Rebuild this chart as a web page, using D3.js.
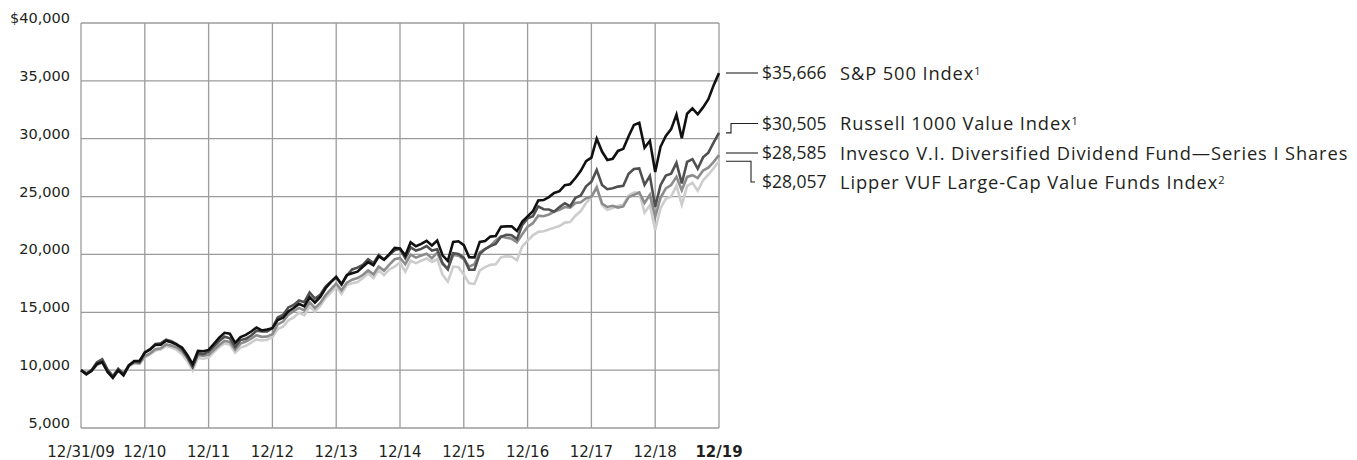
<!DOCTYPE html>
<html>
<meta charset="utf-8" />
<head>
<title>Growth of $10,000</title>
<style>
body { margin: 0; background: #fff; }
svg text { font-family: "DejaVu Sans", sans-serif; fill: #231f20; }
.ytick { font-size: 14.5px; text-anchor: end; }
.xtick { font-size: 15px; text-anchor: middle; }
.legend text { font-family: "Open Sans", sans-serif; font-size: 17.5px; }
.legend .name { font-size: 18.3px; letter-spacing: 0.9px; }
</style>
<script src="https://d3js.org/d3.v7.min.js" charset="utf-8"></script>
</head>
<body>
<svg class="chart" width="1357" height="460"></svg>

<script>
// month-end values, 12/31/09 .. 12/31/19 (growth of $10,000)
var xLabels = ["12/31/09", "12/10", "12/11", "12/12", "12/13", "12/14", "12/15", "12/16", "12/17", "12/18", "12/19"];
var yTicks = [5000, 10000, 15000, 20000, 25000, 30000, 35000, 40000];

var sp500 = [10000,
  9640, 9939, 10538, 10705, 9850, 9335, 9989, 9539, 10390, 10785, 10786, 11506,
  11779, 12183, 12188, 12549, 12407, 12200, 11952, 11303, 10508, 11657, 11631, 11749,
  12276, 12806, 13227, 13144, 12354, 12863, 13042, 13335, 13679, 13426, 13504, 13630,
  14336, 14531, 15076, 15367, 15727, 15516, 16306, 15833, 16330, 17081, 17602, 18045,
  17421, 18217, 18370, 18506, 18941, 19333, 19066, 19829, 19551, 20028, 20567, 20516,
  19900, 21044, 20712, 20911, 21181, 20770, 21206, 19927, 19435, 21075, 21138, 20799,
  19767, 19741, 21079, 21161, 21542, 21598, 22395, 22426, 22431, 22023, 22838, 23287,
  23729, 24671, 24701, 24955, 25307, 25464, 25989, 26070, 26607, 27227, 28063, 28371,
  29997, 28890, 28156, 28263, 28944, 29124, 30207, 31192, 31370, 29224, 29820, 27128,
  29301, 30242, 30829, 32078, 30041, 32159, 32622, 32107, 32707, 33417, 34630, 35666];

var russell = [10000,
  9713, 10019, 10675, 10940, 10051, 9476, 10123, 9682, 10432, 10742, 10684, 11551,
  11814, 12263, 12310, 12628, 12493, 12244, 11817, 11106, 10266, 11441, 11386, 11596,
  12058, 12515, 12884, 12750, 12003, 12598, 12711, 12988, 13403, 13340, 13336, 13627,
  14560, 14760, 15420, 15640, 16020, 15870, 16700, 16180, 16510, 17220, 17640, 18060,
  17408, 18174, 18700, 18860, 19100, 19590, 19250, 19950, 19540, 19970, 20360, 20489,
  19665, 20615, 20330, 20480, 20720, 20330, 20440, 19250, 18700, 20110, 20040, 19704,
  18685, 18680, 20040, 20470, 20720, 20910, 21520, 21700, 21660, 21320, 22560, 23121,
  23300, 24150, 23910, 23880, 23690, 24090, 24420, 24170, 24900, 25100, 25880, 26279,
  27296, 25999, 25633, 25710, 25862, 25929, 26966, 27381, 27438, 26014, 26789, 24106,
  25981, 26812, 26984, 27915, 26126, 28002, 28237, 27407, 28386, 28798, 29676, 30505];

var invesco = [10000,
  9700, 9960, 10480, 10680, 9930, 9480, 10050, 9700, 10380, 10650, 10580, 11200,
  11450, 11800, 11880, 12220, 12120, 11960, 11620, 11080, 10350, 11300, 11240, 11320,
  11760, 12180, 12520, 12430, 11780, 12300, 12480, 12720, 13020, 12880, 12900, 13100,
  13950, 14200, 14800, 15100, 15380, 15170, 15870, 15360, 15800, 16480, 16980, 17480,
  16900, 17560, 17820, 17960, 18220, 18620, 18280, 18950, 18600, 19120, 19580, 19700,
  19150, 19980, 19720, 19900, 20060, 19680, 20150, 19150, 18800, 19950, 19900, 19600,
  18950, 19150, 20200, 20450, 20750, 21200, 21550, 21450, 21350, 21050, 21750, 22400,
  22700, 23350, 23300, 23450, 23700, 23850, 24100, 24050, 24450, 24500, 24850, 25000,
  25750, 24400, 24100, 24200, 24050, 24150, 24950, 25150, 25350, 24450, 25150, 23250,
  24900, 25700, 26000, 26700, 25550, 26700, 26850, 26600, 27250, 27500, 28000, 28585];

var lipper = [10000,
  9690, 9950, 10460, 10640, 9850, 9360, 9940, 9570, 10300, 10600, 10560, 11100,
  11350, 11700, 11780, 12100, 11950, 11750, 11380, 10780, 9980, 11050, 10980, 11080,
  11560, 12000, 12300, 12200, 11500, 11950, 12100, 12380, 12660, 12560, 12620, 12850,
  13560, 13760, 14300, 14560, 14950, 14750, 15500, 15050, 15550, 16250, 16700, 17200,
  16600, 17350, 17500, 17620, 17950, 18350, 17950, 18650, 18200, 18700, 18950, 19300,
  18500, 19450, 19250, 19450, 19650, 19350, 19600, 18250, 17650, 18950, 18900, 18250,
  17500, 17450, 18600, 18900, 19100, 19150, 19750, 19850, 19800, 19500, 20700, 21200,
  21650, 21950, 22000, 22150, 22300, 22450, 22750, 22800, 23350, 23750, 24450, 24950,
  25900, 24250, 23850, 24000, 24200, 24300, 25100, 25350, 25350, 23600, 24250, 22100,
  24000, 24800, 25000, 25950, 24300, 25900, 26200, 25500, 26400, 26900, 27450, 28057];

var seriesNames = ["S&P 500 Index", "Russell 1000 Value Index", "Invesco V.I. Diversified Dividend Fund\u2014Series I Shares", "Lipper VUF Large-Cap Value Funds Index"];
var footnotes = ["1", "1", "", "2"];
var endValues = ["$35,666", "$30,505", "$28,585", "$28,057"];

var chartLeft = 81, chartRight = 719, chartTop = 23, chartBottom = 428;

var svg = d3.select(".chart");

var x = d3.scaleLinear().domain([0, sp500.length - 1]).range([chartLeft, chartRight]);
var y = d3.scaleLinear().domain([5000, 40000]).range([chartBottom, chartTop]);

// grid
var grid = svg.append("g").attr("stroke", "#9b9b9b").attr("stroke-width", 1.3);
grid.selectAll("line.h").data(yTicks).enter().append("line")
  .attr("x1", chartLeft).attr("x2", chartRight)
  .attr("y1", function(d) { return y(d); }).attr("y2", function(d) { return y(d); });
grid.selectAll("line.v").data(xLabels).enter().append("line")
  .attr("x1", function(d, i) { return x(i * 12); }).attr("x2", function(d, i) { return x(i * 12); })
  .attr("y1", chartTop).attr("y2", chartBottom);

// y labels, sitting on their gridline
svg.selectAll("text.ytick").data(yTicks).enter().append("text")
  .attr("class", "ytick")
  .attr("x", 70).attr("y", function(d) { return y(d); })
  .text(function(d) { return (d == 40000 ? "$" : "") + d3.format(",")(d); });

svg.selectAll("text.xtick").data(xLabels).enter().append("text")
  .attr("class", "xtick")
  .attr("x", function(d, i) { return x(i * 12); })
  .attr("y", 457)
  .style("font-weight", function(d, i) { return i == xLabels.length - 1 ? "bold" : "normal"; })
  .text(function(d) { return d; });

// lines, lightest at the bottom
var line = d3.line()
  .x(function(d, i) { return x(i); })
  .y(function(d) { return y(d); });

var lineData = [
  { values: lipper, color: "#cdcdcd" },
  { values: invesco, color: "#8c8c8c" },
  { values: russell, color: "#505050" },
  { values: sp500, color: "#111111" }
];
svg.selectAll("path.series").data(lineData).enter().append("path")
  .attr("fill", "none")
  .attr("stroke", function(d) { return d.color; })
  .attr("stroke-width", 2.6)
  .attr("d", function(d) { return line(d.values); });

// legend
var rowY = [73, 123.5, 153, 182];
var elbowX = [null, 731, null, 751];
var finals = [sp500, russell, invesco, lipper].map(function(s) { return s[s.length - 1]; });

var legend = svg.append("g").attr("class", "legend");
legend.selectAll("path").data(finals).enter().append("path")
  .attr("fill", "none").attr("stroke", "#231f20").attr("stroke-width", 1.1)
  .attr("d", function(d, i) {
    var y0 = y(d);
    if (elbowX[i] == null) return "M726," + rowY[i] + "H758";
    if (i == 1) return "M726," + y0 + "H" + elbowX[i] + "V" + rowY[i] + "H758";
    return "M726," + y0 + "H" + elbowX[i] + "V" + rowY[i] + "H755";
  });

legend.selectAll("text.amt").data(endValues).enter().append("text")
  .attr("x", 762).attr("y", function(d, i) { return rowY[i]; })
  .attr("dy", "0.36em")
  .text(function(d) { return d; });

var names = legend.selectAll("text.name").data(seriesNames).enter().append("text")
  .attr("class", "name")
  .attr("x", 840).attr("y", function(d, i) { return rowY[i]; })
  .attr("dy", "0.36em");
names.append("tspan").text(function(d) { return d; });
names.append("tspan")
  .attr("dy", "-0.45em").style("font-size", "11px")
  .text(function(d, i) { return footnotes[i]; });
</script>
</body>
</html>
